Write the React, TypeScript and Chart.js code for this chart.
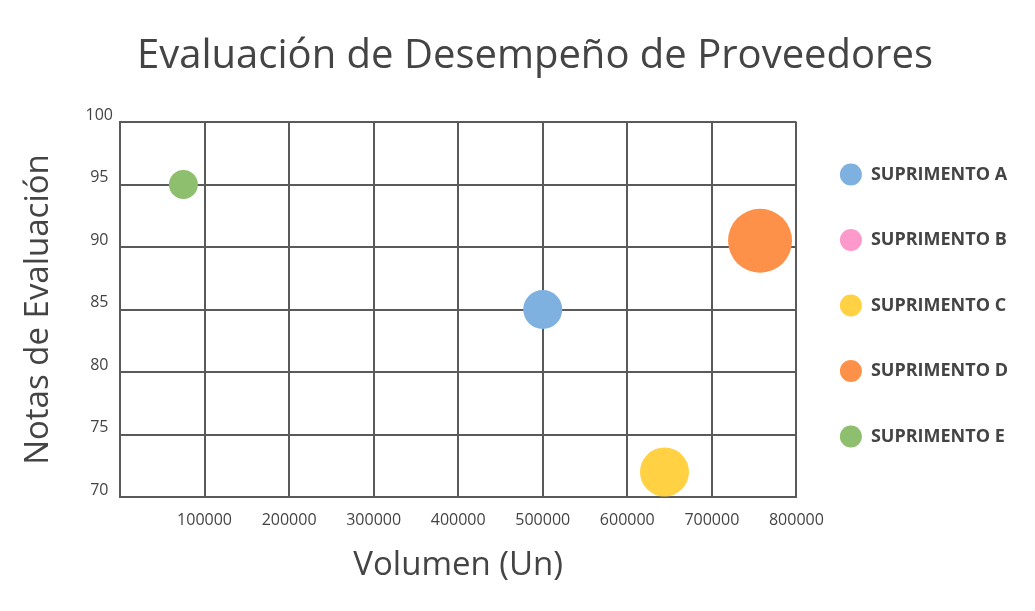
import React, { useEffect, useRef } from "react";
import { Chart, registerables } from "chart.js";

Chart.register(...registerables);

const seriesNames = ["SUPRIMENTO A", "SUPRIMENTO B", "SUPRIMENTO C", "SUPRIMENTO D", "SUPRIMENTO E"];
const seriesColors = ["#7eb0e0", "#fe99cc", "#ffd143", "#fe914a", "#8ebf6f"];
// volume (x), score (y), bubble radius (px)
const volumeA = [500000];
const scoreA = [85];
const sizeA = [19.5];
const volumeB: number[] = [];
const scoreB: number[] = [];
const sizeB: number[] = [];
const volumeC = [644000];
const scoreC = [72];
const sizeC = [24.5];
const volumeD = [757000];
const scoreD = [90.5];
const sizeD = [32];
const volumeE = [75000];
const scoreE = [95];
const sizeE = [14.5];

const xTicks = [0, 100000, 200000, 300000, 400000, 500000, 600000, 700000, 800000];
const yTicks = [70, 75, 80, 85, 90, 95, 100];

const FONT = "'Open Sans', 'DejaVu Sans', sans-serif";
const TEXT = "#444444";
const GRID = "#5a5a5a";

const PAD_LEFT = 52;
const PAD_RIGHT = 17;

function pts(xs: number[], ys: number[], rs: number[]) {
  return xs.map((x, i) => ({ x, y: ys[i], r: rs[i] }));
}

export default function App() {
  const ref = useRef<HTMLCanvasElement | null>(null);
  useEffect(() => {
    if (!ref.current) return;
    const all = [
      pts(volumeA, scoreA, sizeA),
      pts(volumeB, scoreB, sizeB),
      pts(volumeC, scoreC, sizeC),
      pts(volumeD, scoreD, sizeD),
      pts(volumeE, scoreE, sizeE),
    ];
    const chart = new Chart(ref.current, {
      type: "bubble",
      data: {
        datasets: seriesNames.map((name, i) => ({
          label: name,
          data: all[i],
          backgroundColor: seriesColors[i],
          borderColor: seriesColors[i],
          borderWidth: 0,
          hoverBorderWidth: 0,
        })),
      },
      options: {
        animation: false,
        responsive: true,
        maintainAspectRatio: false,
        layout: { padding: { left: PAD_LEFT, right: PAD_RIGHT, top: 0, bottom: 0 } },
        plugins: {
          tooltip: { enabled: false },
          title: {
            display: true,
            text: "Evaluación de Desempeño de Proveedores",
            color: TEXT,
            font: { family: FONT, size: 40, weight: "normal", lineHeight: 1.2 },
            padding: { top: 32.5, bottom: 41.5 },
          },
          legend: {
            position: "right",
            align: "center",
            labels: {
              color: TEXT,
              font: { family: FONT, size: 18, weight: "bold" },
              boxWidth: 22,
              boxHeight: 22,
              useBorderRadius: true,
              borderRadius: 11,
              padding: 43.5,
            },
          },
        },
        scales: {
          x: {
            type: "linear",
            min: xTicks[0],
            max: xTicks[xTicks.length - 1],
            afterBuildTicks: (s: any) => {
              s.ticks = xTicks.map((v) => ({ value: v }));
            },
            afterFit: (s: any) => {
              s.height = 114;
            },
            grid: { color: GRID, lineWidth: 2, drawTicks: false },
            border: { color: GRID, width: 2 },
            ticks: {
              color: TEXT,
              font: { family: FONT, size: 16 },
              padding: 14,
              maxRotation: 0,
              autoSkip: false,
              callback: (v: any) => (v === 0 ? "" : String(v)),
            },
            title: {
              display: true,
              text: "Volumen (Un)",
              color: TEXT,
              font: { family: FONT, size: 33 },
              padding: { top: 0, bottom: 26 },
            },
          },
          y: {
            type: "linear",
            min: yTicks[0],
            max: yTicks[yTicks.length - 1],
            afterBuildTicks: (s: any) => {
              s.ticks = yTicks.map((v) => ({ value: v }));
            },
            afterFit: (s: any) => {
              s.width = 120 - PAD_LEFT;
            },
            grid: { color: GRID, lineWidth: 2, drawTicks: false },
            border: { color: GRID, width: 2 },
            ticks: {
              color: TEXT,
              font: { family: FONT, size: 16 },
              crossAlign: "center",
              labelOffset: -7,
              padding: 7,
            },
            title: {
              display: true,
              text: "Notas de Evaluación",
              color: TEXT,
              font: { family: FONT, size: 33 },
              padding: { top: 39 - PAD_LEFT - 20, bottom: 0 },
            },
          },
        },
      } as any,
    });
    return () => chart.destroy();
  }, []);
  return (
    <div style={{ position: "fixed", left: 0, top: 0, width: 1035, height: 611, background: "#fff" }}>
      <canvas ref={ref} />
    </div>
  );
}
